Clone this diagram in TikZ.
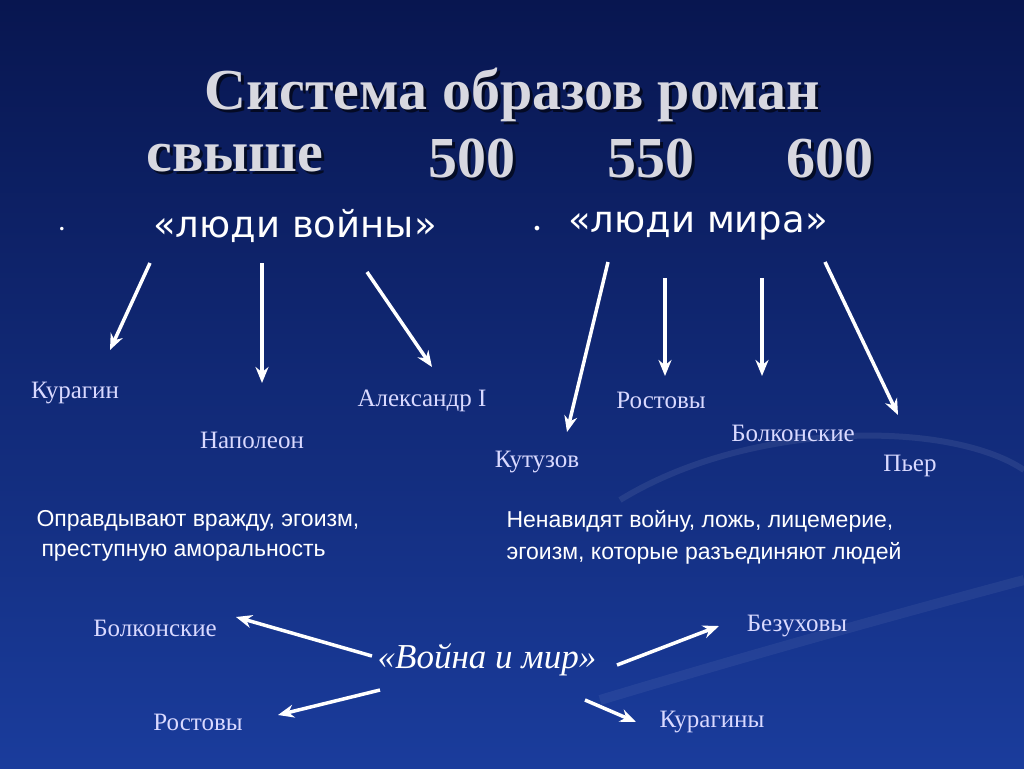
\documentclass[tikz,border=0pt]{standalone}
\usepackage{fontspec}
\setmainfont{Liberation Serif}
\newfontfamily\arialf{Liberation Sans}
\newfontfamily\dejavu{DejaVu Sans}
\usetikzlibrary{arrows.meta}
\definecolor{bgtop}{HTML}{081650}
\definecolor{bgbot}{HTML}{1A3C9C}
\definecolor{titlec}{HTML}{D8D8E0}
\tikzset{
 lbl/.style={text=white!85!blue, font=\fontsize{25}{28}\selectfont},
 txt/.style={text=white, font=\arialf\fontsize{23}{26}\selectfont, anchor=west},
 arr/.style={draw=white, line width=3.5pt, -{Stealth[length=16pt,width=13pt]}},
 ttl/.style={text=titlec, font=\bfseries\fontsize{58}{62}\selectfont},
}
\begin{document}
\begin{tikzpicture}[x=1pt,y=-1pt]
\useasboundingbox (0,0) rectangle (1024,768);
\shade[top color=bgtop, bottom color=bgbot] (0,0) rectangle (1024,768);
\draw[white, opacity=0.08, line width=6pt] (620,500) .. controls (750,420) and (950,420) .. (1024,470);
\draw[white, opacity=0.06, line width=10pt] (600,700) .. controls (800,640) and (950,600) .. (1024,580);
% title
\node[ttl, text=black, opacity=0.6] at (515,98) {Система образов роман};
\node[ttl] (t0) at (512,95) {Система образов роман};
\node[ttl, text=black, opacity=0.6, anchor=west] at (146,161) {свыше};
\node[ttl, anchor=west] (sv) at (143,158) {свыше};
\node[ttl, text=black, opacity=0.6] at (475,161) {500};
\node[ttl] (n1) at (472,158) {500};
\node[ttl, text=black, opacity=0.6] at (654,161) {550};
\node[ttl] (n2) at (651,158) {550};
\node[ttl, text=black, opacity=0.6] at (833,161) {600};
\node[ttl] (n3) at (830,158) {600};
\node[text=white, font=\dejavu\fontsize{12}{12}\selectfont] (b1) at (62,230) {•};
\node[text=white, font=\dejavu\fontsize{16}{16}\selectfont] (b2) at (537,230) {•};
\node[text=white, font=\dejavu\fontsize{37}{40}\selectfont] (war) at (295,226) {«люди войны»};
\node[text=white, font=\dejavu\fontsize{37}{40}\selectfont] (peace) at (698,226) {«люди мира»};
% labels
\node[lbl] (kur) at (75,393) {Курагин};
\node[lbl] (nap) at (252,440) {Наполеон};
\node[lbl] (alx) at (422,401) {Александр I};
\node[lbl] (ros) at (661,400) {Ростовы};
\node[lbl] (kut) at (537,462) {Кутузов};
\node[lbl] (bol) at (793,433) {Болконские};
\node[lbl] (pier) at (910,466) {Пьер};
\coordinate (s1) at (150,263); \coordinate (e1) at (110,350);
\coordinate (s2) at (262,263); \coordinate (e2) at (262,383);
\coordinate (s3) at (367,272); \coordinate (e3) at (432,367);
\coordinate (s4) at (608,262); \coordinate (e4) at (567,432);
\coordinate (s5) at (665,278); \coordinate (e5) at (665,376);
\coordinate (s6) at (762,278); \coordinate (e6) at (762,376);
\coordinate (s7) at (825,262); \coordinate (e7) at (898,415);
\foreach \i in {1,...,7} \draw[arr] (s\i) -- (e\i);
% texts
\node[txt] (t1) at (33,521) {Оправдывают вражду, эгоизм,};
\node[txt] (t2) at (38,553) {преступную аморальность};
\node[txt] (t3) at (503,521) {Ненавидят войну, ложь, лицемерие,};
\node[txt] (t4) at (503,553) {эгоизм, которые разъединяют людей};
% bottom
\node[text=white, font=\itshape\fontsize{35}{38}\selectfont] (wm) at (487,660) {«Война и мир»};
\node[lbl] (bb) at (155,628) {Болконские};
\node[lbl] (br) at (198,722) {Ростовы};
\node[lbl] (bz) at (797,626) {Безуховы};
\node[lbl] (bk) at (712,722) {Курагины};
\coordinate (w1) at (372,656); \coordinate (f1) at (236,617);
\coordinate (w2) at (380,690); \coordinate (f2) at (278,715);
\coordinate (w3) at (617,665); \coordinate (f3) at (719,626);
\coordinate (w4) at (585,700); \coordinate (f4) at (636,722);
\foreach \i in {1,...,4} \draw[arr] (w\i) -- (f\i);
\end{tikzpicture}
\end{document}
